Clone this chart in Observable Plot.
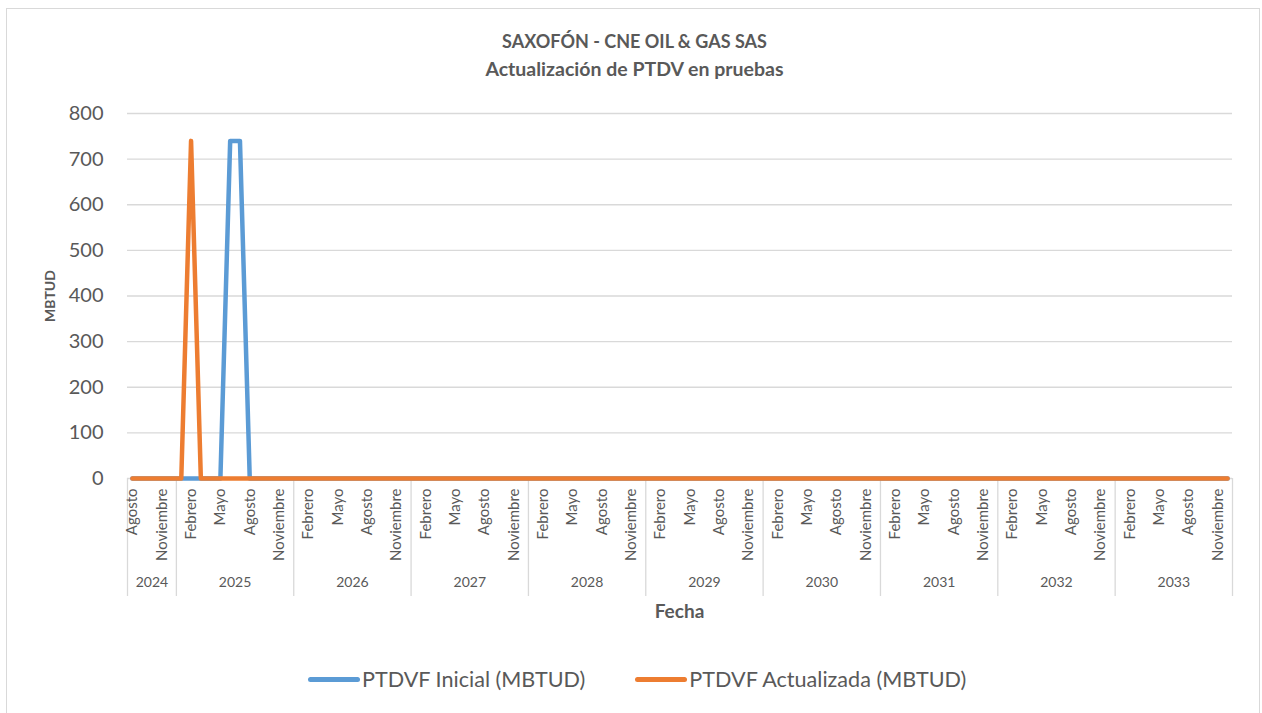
<!DOCTYPE html>
<html>
<head>
<meta charset="utf-8">
<script src="https://cdn.jsdelivr.net/npm/d3@7"></script>
<script src="https://cdn.jsdelivr.net/npm/@observablehq/plot@0.6"></script>
<style>
  html, body { margin: 0; padding: 0; background: #fff; }
  #frame { position: relative; width: 1262px; height: 713px; overflow: hidden; font-family: Lato, "Noto Sans", sans-serif; color: #595959; }
  #border { position: absolute; left: 6px; top: 8px; width: 1254px; height: 720px; border: 1.5px solid #d9d9d9; box-sizing: border-box; }
  .title { position: absolute; left: 0; width: 1269px; text-align: center; font-weight: bold; color: #595959; line-height: 1.2; }
  #axisPlot { position: absolute; left: 0; top: 478px; }
  #mainPlot { position: absolute; left: 0; top: 0; }
  #xlabel { position: absolute; left: 0; width: 1359px; top: 600px; text-align: center; font-weight: bold; font-size: 19px; line-height: 1.2; }
  #legend { position: absolute; left: 308px; top: 667px; display: flex; align-items: center; gap: 50px; font-size: 21.6px; line-height: 1.2; }
  .item { display: flex; align-items: center; gap: 2px; }
  .sw { width: 52px; height: 5px; border-radius: 3px; }
</style>
</head>
<body>
<div id="frame">
  <div id="border"></div>
  <div id="axisPlot"></div>
  <div id="mainPlot"></div>
  <div class="title" style="top:31px; font-size:18px">SAXOFÓN - CNE OIL &amp; GAS SAS</div>
  <div class="title" style="top:57px; font-size:19.5px">Actualización de PTDV en pruebas</div>
  <div id="xlabel">Fecha</div>
  <div id="legend"></div>
</div>
<script>
// ---- Data ----
const years = [2024, 2025, 2026, 2027, 2028, 2029, 2030, 2031, 2032, 2033];
const monthNames = ["Enero","Febrero","Marzo","Abril","Mayo","Junio","Julio","Agosto","Septiembre","Octubre","Noviembre","Diciembre"];
const firstMonthIndex = 7; // series starts in Agosto 2024
const labeledMonths = ["Febrero","Mayo","Agosto","Noviembre"];
const yTicks = [0, 100, 200, 300, 400, 500, 600, 700, 800];
const seriesNames = ["PTDVF Inicial (MBTUD)", "PTDVF Actualizada (MBTUD)"];
const seriesColors = ["#5b9bd5", "#ed7d31"];

// PTDVF Inicial (MBTUD), Ago-2024 .. Dic-2033
const inicial = [
  0,0,0,0,0,                 // 2024 Ago-Dic
  0,0,0,0,0,740,740,0,0,0,0,0, // 2025
  0,0,0,0,0,0,0,0,0,0,0,0,   // 2026
  0,0,0,0,0,0,0,0,0,0,0,0,   // 2027
  0,0,0,0,0,0,0,0,0,0,0,0,   // 2028
  0,0,0,0,0,0,0,0,0,0,0,0,   // 2029
  0,0,0,0,0,0,0,0,0,0,0,0,   // 2030
  0,0,0,0,0,0,0,0,0,0,0,0,   // 2031
  0,0,0,0,0,0,0,0,0,0,0,0,   // 2032
  0,0,0,0,0,0,0,0,0,0,0,0    // 2033
];
// PTDVF Actualizada (MBTUD), Ago-2024 .. Dic-2033
const actualizada = [
  0,0,0,0,0,                 // 2024 Ago-Dic
  0,740,0,0,0,0,0,0,0,0,0,0, // 2025
  0,0,0,0,0,0,0,0,0,0,0,0,   // 2026
  0,0,0,0,0,0,0,0,0,0,0,0,   // 2027
  0,0,0,0,0,0,0,0,0,0,0,0,   // 2028
  0,0,0,0,0,0,0,0,0,0,0,0,   // 2029
  0,0,0,0,0,0,0,0,0,0,0,0,   // 2030
  0,0,0,0,0,0,0,0,0,0,0,0,   // 2031
  0,0,0,0,0,0,0,0,0,0,0,0,   // 2032
  0,0,0,0,0,0,0,0,0,0,0,0    // 2033
];

// ---- Build category table ----
const months = [];
years.forEach((y, yi) => {
  for (let m = (yi === 0 ? firstMonthIndex : 0); m < 12; m++) {
    months.push({ i: months.length, year: y, month: monthNames[m] });
  }
});
const n = months.length;
const lineInicial = months.map((d, i) => ({ i, v: inicial[i] }));
const lineActualizada = months.map((d, i) => ({ i, v: actualizada[i] }));
const tickData = months.filter(d => labeledMonths.includes(d.month));
const yearSpans = years.map(y => {
  const ms = months.filter(d => d.year === y);
  return { year: y, start: ms[0].i - 0.5, end: ms[ms.length - 1].i + 0.5, mid: (ms[0].i + ms[ms.length - 1].i) / 2 };
});
const boundaries = [yearSpans[0].start, ...yearSpans.map(s => s.end)];

const W = 1262, ML = 127, MR = 30;
const xScale = { type: "linear", domain: [-0.5, n - 0.5], axis: null };
const font = "Lato, 'Noto Sans', sans-serif";

const main = Plot.plot({
  width: W, height: 486,
  marginLeft: ML, marginRight: MR, marginTop: 113, marginBottom: 8,
  style: { background: "transparent", overflow: "visible", fontFamily: font, color: "#595959" },
  x: xScale,
  y: { domain: [0, 800], axis: null },
  marks: [
    Plot.gridY(yTicks, { stroke: "#d9d9d9", strokeOpacity: 1, strokeWidth: 1.3 }),
    Plot.axisY(yTicks, { tickSize: 0, tickPadding: 24, fontSize: 20, fill: "#595959", label: null }),
    Plot.lineY(lineInicial, { x: "i", y: "v", stroke: seriesColors[0], strokeWidth: 4.5, strokeLinejoin: "round", strokeLinecap: "round" }),
    Plot.lineY(lineActualizada, { x: "i", y: "v", stroke: seriesColors[1], strokeWidth: 4.5, strokeLinejoin: "round", strokeLinecap: "round" }),
    Plot.text(["MBTUD"], { frameAnchor: "left", dx: -77, rotate: -90, textAnchor: "middle", lineAnchor: "middle", fontSize: 14, fontWeight: "bold", fill: "#595959" })
  ]
});
document.getElementById("mainPlot").appendChild(main);

const axis = Plot.plot({
  width: W, height: 118,
  marginLeft: ML, marginRight: MR, marginTop: 0, marginBottom: 0,
  style: { background: "transparent", overflow: "visible", fontFamily: font, color: "#595959" },
  x: xScale,
  y: { axis: null },
  marks: [
    Plot.ruleX(boundaries, { stroke: "#d9d9d9", strokeWidth: 1.3 }),
    Plot.text(tickData, { x: "i", text: "month", frameAnchor: "top", dy: 10, rotate: -90, textAnchor: "end", lineAnchor: "middle", fontSize: 15, fill: "#595959" }),
    Plot.text(yearSpans, { x: "mid", text: d => String(d.year), frameAnchor: "bottom", dy: -14, lineAnchor: "middle", fontSize: 14, fill: "#595959" })
  ]
});
document.getElementById("axisPlot").appendChild(axis);

// ---- Legend ----
const legend = document.getElementById("legend");
seriesNames.forEach((name, k) => {
  const item = document.createElement("div");
  item.className = "item";
  const sw = document.createElement("div");
  sw.className = "sw";
  sw.style.background = seriesColors[k];
  const t = document.createElement("span");
  t.textContent = name;
  item.appendChild(sw);
  item.appendChild(t);
  legend.appendChild(item);
});
</script>
</body>
</html>
